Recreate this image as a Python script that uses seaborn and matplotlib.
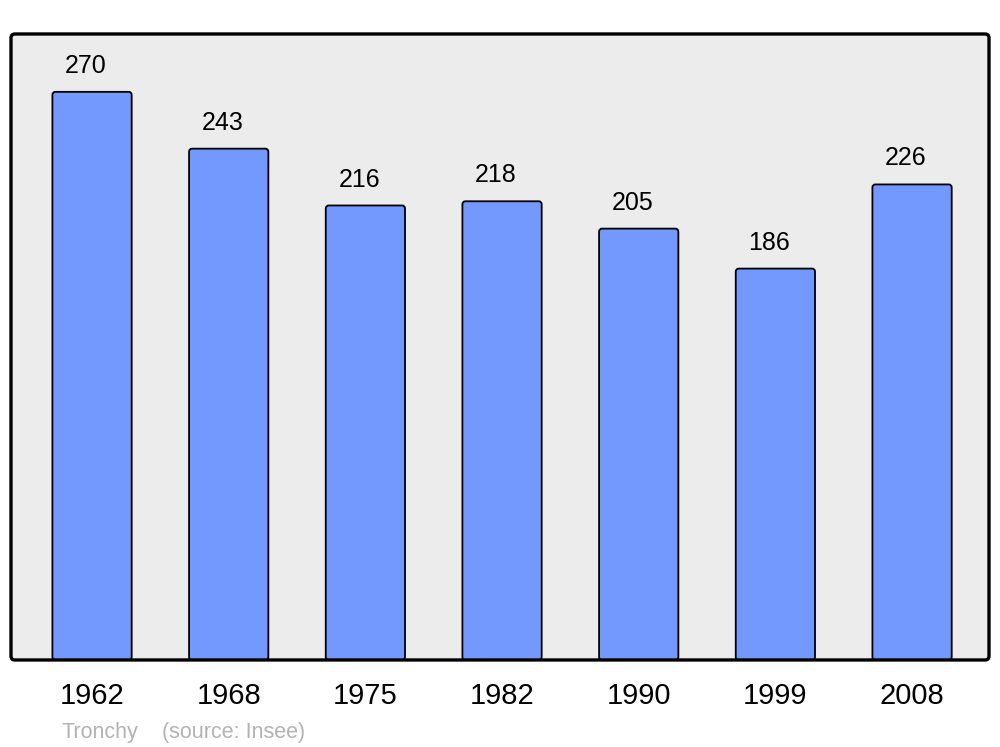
import numpy as np
import pandas as pd
import matplotlib
matplotlib.use('Agg')
import matplotlib.pyplot as plt
from matplotlib.patches import FancyBboxPatch
import seaborn as sns

annees = ['1962', '1968', '1975', '1982', '1990', '1999', '2008']
population = [270, 243, 216, 218, 205, 186, 226]

df = pd.DataFrame({'annee': annees, 'pop': population})

sns.set_style('white')
plt.rcParams['font.family'] = ['Liberation Sans', 'DejaVu Sans']
plt.rcParams['text.color'] = 'black'
plt.rcParams['xtick.color'] = 'black'

fig = plt.figure(figsize=(10, 7.47), dpi=100)
ax = fig.add_axes([0.011, 0.1165, 0.978, 0.838])
ax.set_facecolor('#ececec')

sns.barplot(data=df, x='annee', y='pop', color='#7399ff', saturation=1,
            width=0.58, edgecolor='black', linewidth=1.3, ax=ax)

ax.set_xlim(-0.593, 6.563)
ax.set_ylim(0, 297.5)

# Barres aux coins arrondis
for p in list(ax.patches):
    x, y = p.get_x(), p.get_y()
    w, h = p.get_width(), p.get_height()
    arr = FancyBboxPatch((x, y), w, h,
                         boxstyle='round,pad=0,rounding_size=0.022',
                         mutation_aspect=65,
                         facecolor=p.get_facecolor(), edgecolor='black',
                         linewidth=1.3, zorder=2)
    p.remove()
    ax.add_patch(arr)

# Etiquettes au-dessus des barres
for i, v in enumerate(population):
    ax.text(i - 0.045, v + 9, str(v), ha='center', va='baseline', fontsize=18)

ax.set_yticks([])
ax.set_xlabel('')
ax.set_ylabel('')
ax.tick_params(axis='x', length=0, labelsize=21, pad=16)
for s in ax.spines.values():
    s.set_visible(False)

# Cadre arrondi
cadre = FancyBboxPatch((0, 0), 1, 1, transform=ax.transAxes,
                       boxstyle='round,pad=0,rounding_size=0.004',
                       mutation_aspect=1.56, facecolor='none',
                       edgecolor='black', linewidth=2.4, clip_on=False, zorder=5)
ax.add_patch(cadre)

fig.text(0.061, 0.012, 'Tronchy', color='#b3b3b3', fontsize=15.5, va='baseline')
fig.text(0.162, 0.012, '(source: Insee)', color='#b3b3b3', fontsize=15.5, va='baseline')

fig.savefig('out.png', dpi=100)
